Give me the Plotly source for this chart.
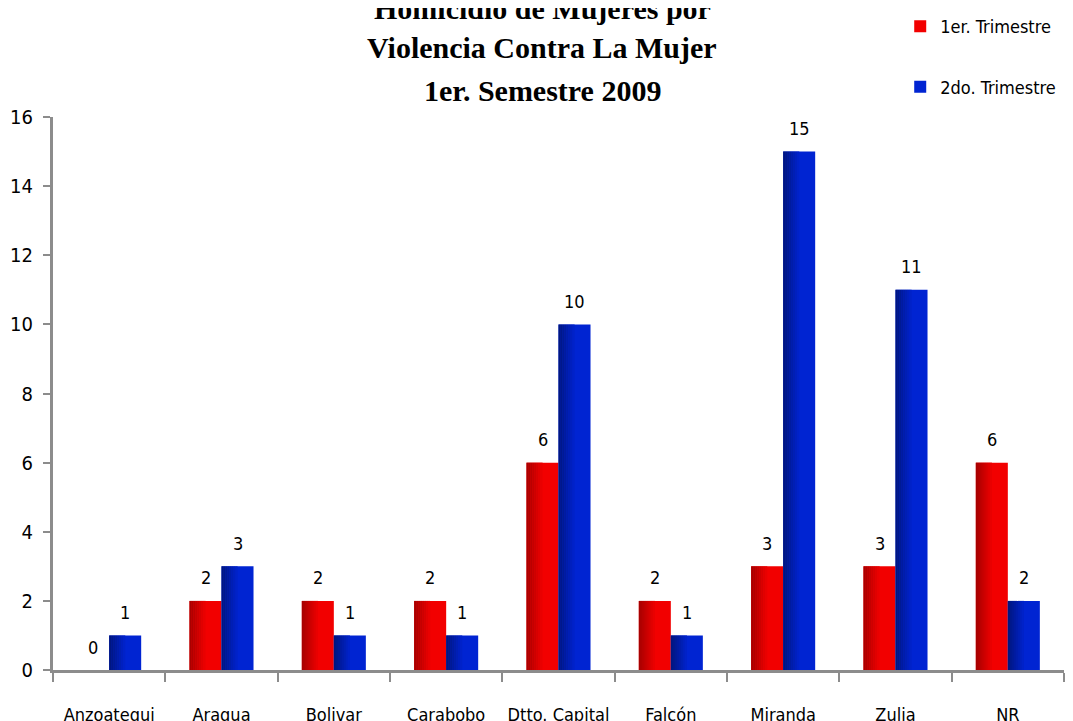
import plotly.graph_objects as go

# Datos
estados = ["Anzoategui", "Aragua", "Bolivar", "Carabobo", "Dtto. Capital",
           "Falcón", "Miranda", "Zulia", "NR"]
trim1 = [0, 2, 2, 2, 6, 2, 3, 3, 6]
trim2 = [1, 3, 1, 1, 10, 1, 15, 11, 2]
y_ticks = [0, 2, 4, 6, 8, 10, 12, 14, 16]

FONT = "DejaVu Sans Condensed, Liberation Sans Narrow, sans-serif"
BAR_W = 0.285
N_SLICES = 8


def mix(c1, c2, t):
    return "rgb({},{},{})".format(*[round(a + (b - a) * t) for a, b in zip(c1, c2)])


def add_series(fig, values, name, offset, dark, bright, group):
    # barra base
    fig.add_trace(go.Bar(
        x=estados, y=values, name=name, width=BAR_W, offset=offset,
        marker=dict(color=mix(bright, bright, 0), line=dict(width=0)),
        legendgroup=group, hoverinfo="x+y",
    ))
    # degradado en la mitad izquierda
    sw = BAR_W * 0.5 / N_SLICES
    for i in range(N_SLICES):
        fig.add_trace(go.Bar(
            x=estados, y=values, width=sw * 1.05, offset=offset + i * sw,
            marker=dict(color=mix(dark, bright, i / N_SLICES), line=dict(width=0)),
            showlegend=False, legendgroup=group, hoverinfo="skip",
        ))


fig = go.Figure()
add_series(fig, trim1, "1er. Trimestre", -BAR_W, (168, 0, 0), (242, 0, 0), "t1")
add_series(fig, trim2, "2do. Trimestre", 0, (0, 22, 128), (0, 36, 210), "t2")

# etiquetas de valores
for vals, xs in ((trim1, -16), (trim2, 16)):
    for cat, v in zip(estados, vals):
        fig.add_annotation(x=cat, y=v, text=str(v), showarrow=False,
                           xshift=xs, yshift=23,
                           font=dict(family=FONT, size=18, color="black"))

# titulo
for txt, yp in (("Homicidio de Mujeres por", 1.197),
                 ("Violencia Contra La Mujer", 1.125),
                 ("1er. Semestre 2009", 1.048)):
    fig.add_annotation(x=0.484, y=yp, xref="paper", yref="paper", text="<b>" + txt + "</b>",
                       showarrow=False, yanchor="middle",
                       font=dict(family="Liberation Serif, Times New Roman, serif", size=30, color="black"))

# la pagina tiene 8px de margen en body
fig.update_layout(
    width=1065, height=713,
    margin=dict(l=45, r=9, t=109, b=51, autoexpand=False),
    paper_bgcolor="white", plot_bgcolor="white",
    barmode="overlay",
    showlegend=True,
    legend=dict(x=0.838, y=1.197, xanchor="left", yanchor="top",
                font=dict(family=FONT, size=18, color="black"),
                tracegroupgap=34, itemwidth=30, bgcolor="rgba(0,0,0,0)"),
    font=dict(family=FONT, color="black"),
)
fig.update_xaxes(
    showline=True, linecolor="#8c8c8c", linewidth=3,
    ticks="outside", tickson="boundaries", ticklen=9, tickwidth=2, tickcolor="#8c8c8c",
    tickfont=dict(family=FONT, size=18, color="black"), tickangle=0, automargin=False,
    ticklabelstandoff=26, showgrid=False,
)
fig.update_yaxes(
    range=[0, 16], tickvals=y_ticks,
    showline=True, linecolor="#8c8c8c", linewidth=3,
    ticks="outside", ticklen=7, tickwidth=2, tickcolor="#8c8c8c",
    tickfont=dict(family=FONT, size=20, color="black"), automargin=False,
    showgrid=False, zeroline=False, ticklabelstandoff=6,
)

fig.write_html("out.html")
